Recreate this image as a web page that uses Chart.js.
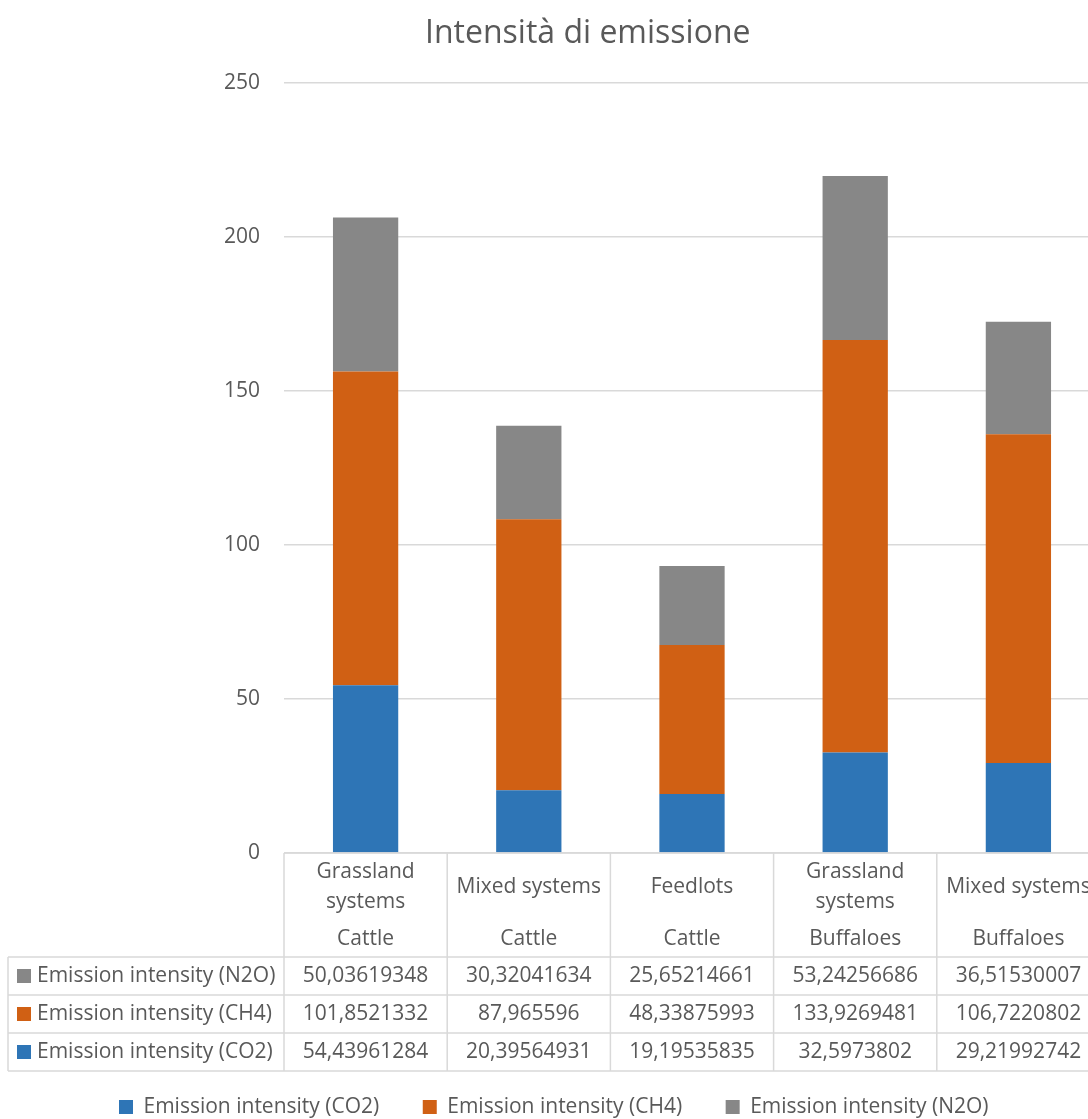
<!DOCTYPE html>
<html>
<head>
<meta charset="utf-8">
<title>Intensità di emissione</title>
<script src="https://cdn.jsdelivr.net/npm/chart.js"></script>
<style>
  html, body { margin: 0; padding: 0; background: #fff; overflow: hidden; }
  #wrap { width: 1088px; height: 1119px; overflow: hidden; }
  canvas { display: block; }
</style>
</head>
<body>
<div id="wrap"><canvas id="emissionChart" width="1100" height="1119"></canvas></div>
<script>
// two-level category axis: production system / animal
const systems = ['Grassland systems', 'Mixed systems', 'Feedlots', 'Grassland systems', 'Mixed systems'];
const animals = ['Cattle', 'Cattle', 'Cattle', 'Buffaloes', 'Buffaloes'];

// emission intensity per gas
const co2 = [54.43961284, 20.39564931, 19.19535835, 32.5973802, 29.21992742];
const ch4 = [101.8521332, 87.965596, 48.33875993, 133.9269481, 106.7220802];
const n2o = [50.03619348, 30.32041634, 25.65214661, 53.24256686, 36.51530007];

const yTicks = [0, 50, 100, 150, 200, 250];

const TEXT = '#595959';
const LINES = '#d9d9d9';
const FONT = '"Open Sans", sans-serif';

Chart.defaults.font.family = FONT;
Chart.defaults.color = TEXT;

// numbers in the table use a decimal comma
function fmt(v) {
    return String(v).replace('.', ',');
}

// split a label in two lines when it is wider than the column
function wrapLabel(ctx, text, maxW) {
    if (ctx.measureText(text).width <= maxW) return [text];
    const words = text.split(' ');
    const lines = [];
    let line = '';
    words.forEach((w) => {
        const test = line ? line + ' ' + w : w;
        if (line && ctx.measureText(test).width > maxW) {
            lines.push(line);
            line = w;
        } else {
            line = test;
        }
    });
    lines.push(line);
    return lines;
}

// data table under the plot: category headers + one row per series
const dataTable = {
    id: 'dataTable',
    afterDraw(chart) {
        const { ctx, chartArea, scales: { x } } = chart;
        const n = chart.data.labels.length;
        const colW = x.width / n;
        const top = chartArea.bottom;
        const headH = 104;
        const rowH = 38;
        const tableLeft = 8;
        const rowsTop = top + headH;
        const rows = chart.data.datasets.slice().reverse();
        const bottom = rowsTop + rowH * rows.length;

        ctx.save();
        ctx.strokeStyle = LINES;
        ctx.lineWidth = 1.5;
        ctx.beginPath();
        ctx.moveTo(x.left, top);
        ctx.lineTo(x.right, top);
        for (let r = 0; r <= rows.length; r++) {
            ctx.moveTo(tableLeft, rowsTop + r * rowH);
            ctx.lineTo(x.right, rowsTop + r * rowH);
        }
        for (let i = 0; i <= n; i++) {
            const xx = x.left + i * colW;
            ctx.moveTo(xx, top);
            ctx.lineTo(xx, bottom);
        }
        ctx.moveTo(tableLeft, rowsTop);
        ctx.lineTo(tableLeft, bottom);
        ctx.stroke();

        ctx.font = '21px ' + FONT;
        ctx.fillStyle = TEXT;
        ctx.textAlign = 'center';
        ctx.textBaseline = 'middle';

        // headers
        for (let i = 0; i < n; i++) {
            const cx = x.getPixelForValue(i);
            const lines = wrapLabel(ctx, systems[i], colW - 10);
            const mid = top + 34;
            lines.forEach((l, k) => {
                ctx.fillText(l, cx, mid + (k - (lines.length - 1) / 2) * 30);
            });
            ctx.fillText(animals[i], cx, top + 86);
        }

        // rows
        rows.forEach((ds, r) => {
            const cy = rowsTop + r * rowH + rowH / 2;
            ctx.fillStyle = ds.backgroundColor;
            ctx.fillRect(tableLeft + 9, cy - 7, 14, 14);
            ctx.fillStyle = TEXT;
            ctx.textAlign = 'left';
            ctx.fillText(ds.label, tableLeft + 29, cy);
            ctx.textAlign = 'center';
            ds.data.forEach((v, i) => {
                ctx.fillText(fmt(v), x.getPixelForValue(i), cy);
            });
        });
        ctx.restore();
    }
};

const ctx = document.getElementById('emissionChart').getContext('2d');

new Chart(ctx, {
    type: 'bar',
    data: {
        labels: systems.map((s, i) => s + ' ' + animals[i]),
        datasets: [
            { label: 'Emission intensity (CO2)', data: co2, backgroundColor: '#2e75b6' },
            { label: 'Emission intensity (CH4)', data: ch4, backgroundColor: '#d06014' },
            { label: 'Emission intensity (N2O)', data: n2o, backgroundColor: '#878787' },
        ],
    },
    options: {
        responsive: false,
        animation: false,
        devicePixelRatio: 1,
        layout: { padding: { left: 75.5, right: 0, top: 0, bottom: -8.5 } },
        datasets: {
            bar: { categoryPercentage: 1, barPercentage: 0.4, borderWidth: 0 },
        },
        plugins: {
            title: {
                display: true,
                text: 'Intensità di emissione',
                color: TEXT,
                font: { size: 32, weight: 'normal' },
                padding: { top: 15, bottom: 29.6 },
            },
            legend: {
                position: 'bottom',
                align: 'start',
                labels: {
                    boxWidth: 14,
                    boxHeight: 14,
                    padding: 43.5,
                    color: TEXT,
                    font: { size: 21 },
                },
            },
            tooltip: { enabled: false },
        },
        scales: {
            x: {
                stacked: true,
                grid: { display: false },
                border: { display: false },
                ticks: { display: false },
                afterFit(scale) { scale.height = 200; },
            },
            y: {
                stacked: true,
                min: yTicks[0],
                max: yTicks[yTicks.length - 1],
                grid: { color: LINES, lineWidth: 1.5, drawTicks: false },
                border: { display: false },
                ticks: {
                    stepSize: yTicks[1] - yTicks[0],
                    padding: 24,
                    color: TEXT,
                    font: { size: 21 },
                },
                afterFit(scale) { scale.width = 208.5; },
            },
        },
    },
    plugins: [dataTable],
});
</script>
</body>
</html>
